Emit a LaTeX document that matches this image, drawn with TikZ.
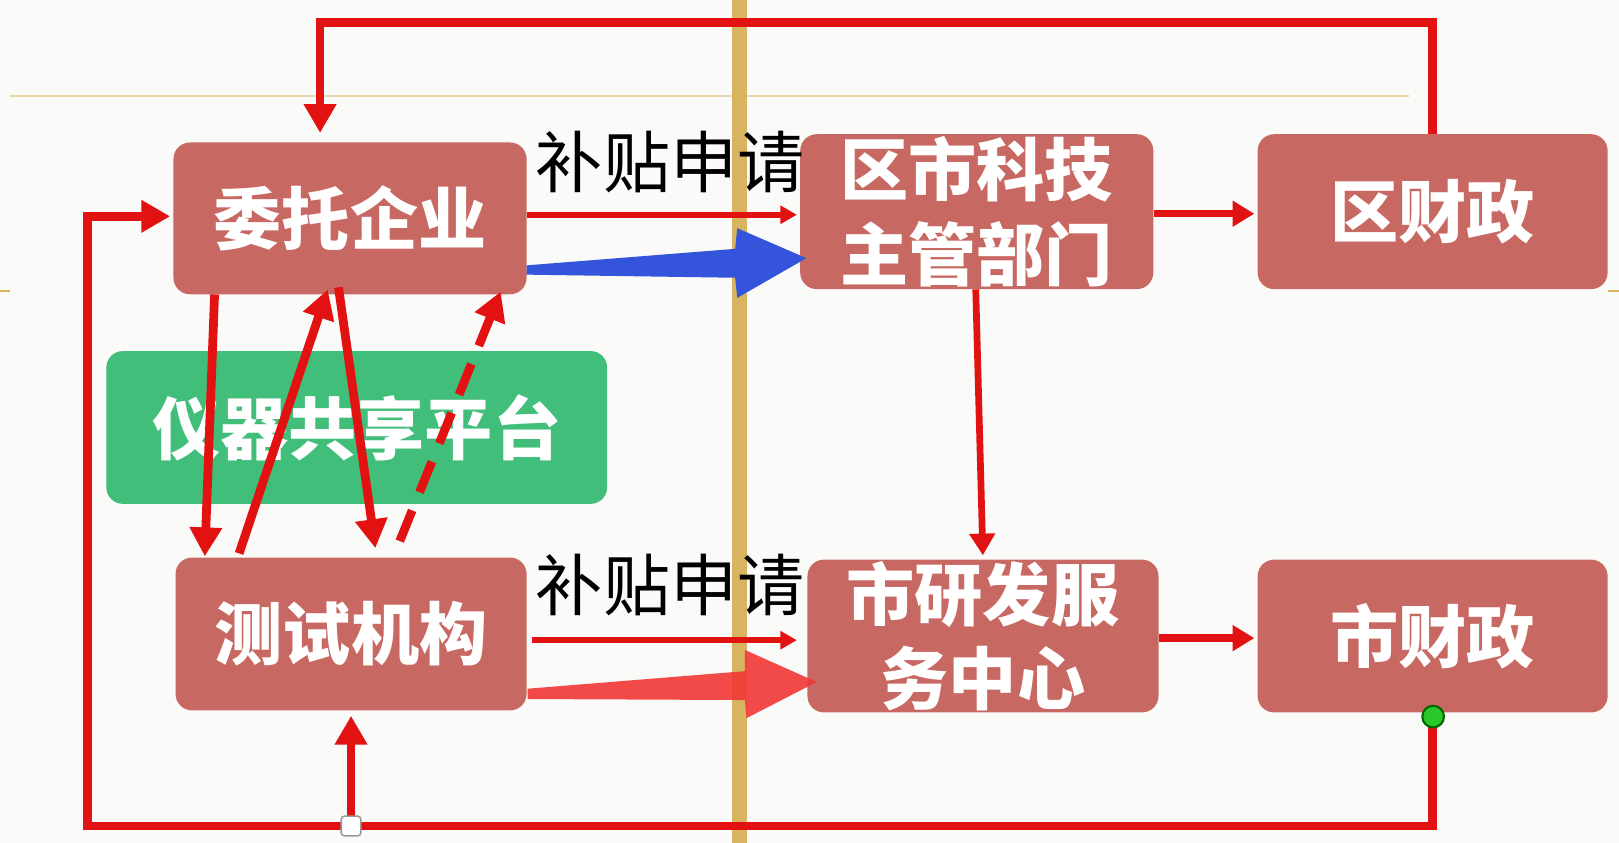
\documentclass[tikz,border=0pt]{standalone}
\usepackage{fontspec}
\newfontfamily\cjk{Noto Sans CJK SC}
\usetikzlibrary{arrows.meta,calc}
\definecolor{boxred}{RGB}{200,104,98}
\definecolor{boxgreen}{RGB}{64,190,122}
\definecolor{lred}{RGB}{226,18,18}
\definecolor{bigred}{RGB}{242,54,54}
\definecolor{bblue}{RGB}{52,84,220}
\definecolor{gold}{RGB}{216,180,96}
\definecolor{tanline}{RGB}{232,216,172}
\definecolor{bgc}{RGB}{250,250,248}
\definecolor{dotgreen}{RGB}{40,200,40}
\begin{document}
\begin{tikzpicture}[x=1pt,y=-1pt,
  box/.style={rectangle, rounded corners=16pt, fill=boxred, text=white,
    font=\cjk\bfseries\fontsize{66}{82}\selectfont, align=center, inner sep=0pt},
  gbox/.style={box, fill=boxgreen},
  lab/.style={font=\cjk\fontsize{65}{70}\selectfont, text=black, inner sep=0pt},
  link/.style={draw=lred, line width=8.5pt, -{Triangle[length=28pt,width=30pt]}},
  medlink/.style={draw=lred, line width=7pt, -{Triangle[length=21pt,width=24pt]}},
  thinlink/.style={draw=lred, line width=6pt, -{Triangle[length=16pt,width=17pt]}}]
\useasboundingbox (0,0) rectangle (1568,816);
\fill[bgc] (0,0) rectangle (1568,816);
% guide lines
\draw[tanline, line width=2pt] (10,93) -- (1365,93);
\draw[gold, line width=2pt] (0,282) -- (10,282);
\draw[gold, line width=2pt] (1557,282) -- (1568,282);
\draw[gold, line width=15pt] (716,0) -- (716,816);
% boxes
\node[box, minimum width=342pt, minimum height=147pt] (A) at (339,211.5) {委托企业};
\node[box, minimum width=340pt, minimum height=148pt] (B) at (340,614) {测试机构};
\node[gbox, minimum width=485pt, minimum height=148pt] (G) at (345.5,414) {仪器共享平台};
\node[box, minimum width=342pt, minimum height=150pt] (C) at (946,205) {区市科技\\主管部门};
\node[box, minimum width=340pt, minimum height=148pt] (D) at (952,616) {市研发服\\务中心};
\node[box, minimum width=339pt, minimum height=150pt] (E) at (1387.5,205) {区财政};
\node[box, minimum width=339pt, minimum height=148pt] (F) at (1387.5,616) {市财政};
% labels
\node[lab] (L1) at (649,157) {补贴申请};
\node[lab] (L2) at (649,567) {补贴申请};
% loops
\coordinate (bl) at (85,800);
\coordinate (bm) at (340,800);
\draw[link, shorten >=9pt] (E.north) -- ++(0,-108) -| ([xshift=-29pt]A.north);
\draw[link, shorten >=3pt] (F.south) |- (bl) |- ([yshift=2pt]A.west);
\draw[link, shorten >=5pt] (bm) -- (B.south);
% thin arrows
\draw[thinlink, shorten >=3pt] ([yshift=3.5pt]A.east) -- ([yshift=-3pt]C.west);
\draw[thinlink, shorten <=5pt, shorten >=10pt] ([yshift=-6pt]B.east) -- ([yshift=-4pt]D.west);
% right arrows
\draw[medlink, shorten >=3pt] ([yshift=-2pt]C.east) -- ([yshift=-2pt]E.west);
\draw[medlink, shorten >=3pt] ([yshift=-2pt]D.east) -- ([yshift=-2pt]F.west);
\draw[medlink, line width=6.5pt, shorten >=4pt] ([xshift=-1pt]C.south) -- (D.north);
% A <-> B arrows
\draw[link, shorten >=1pt] ([xshift=40pt]A.south west) -- ([xshift=28.5pt]B.north west);
\draw[link, shorten <=4pt, shorten >=-5pt] ([xshift=60.5pt]B.north west) -- ([xshift=148pt]A.south west);
\draw[link, shorten <=-7pt, shorten >=9pt] ([xshift=161pt]A.south west) -- ([xshift=195pt]B.north west);
\draw[link, dash pattern=on 32pt off 19pt, shorten <=17pt, shorten >=-3pt] ([xshift=211pt]B.north west) -- ([xshift=316pt]A.south west);
% big arrows
\fill[bblue] (510,257) -- (712,241) -- (714,221) -- (781,250) -- (714,288.5) -- (712,269) -- (510,266) -- cycle;
\fill[bigred, opacity=0.9] (511,667) -- (721.5,650) -- (721.5,629.5) -- (791,660.5) -- (723,695.5) -- (721.5,678) -- (511,677) -- cycle;
% dots
\node[draw=gray!80, fill=white, minimum size=19pt, rounded corners=3pt, inner sep=0pt, line width=1.5pt] (wd) at (bm) {};
\node[circle, draw=black!60!green, fill=dotgreen, minimum size=21pt, inner sep=0pt, line width=2pt] (gd) at (1388,694) {};
\end{tikzpicture}
\end{document}
